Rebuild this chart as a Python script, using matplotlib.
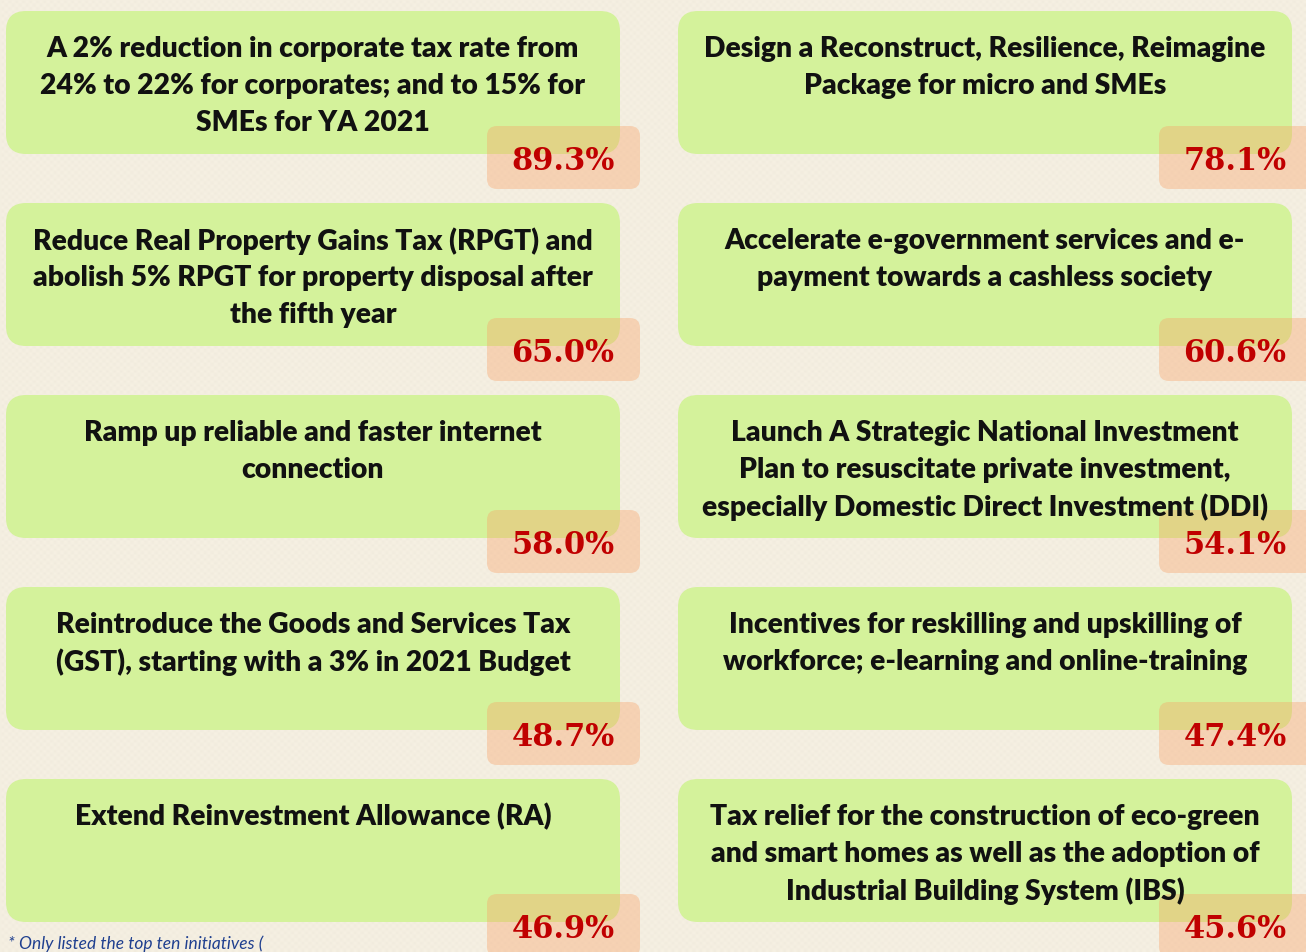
import matplotlib
matplotlib.use("Agg")
import matplotlib.pyplot as plt
import numpy as np
from matplotlib.patches import FancyBboxPatch

labels = [
    "A 2% reduction in corporate tax rate from\n24% to 22% for corporates; and to 15% for\nSMEs for YA 2021",
    "Design a Reconstruct, Resilience, Reimagine\nPackage for micro and SMEs",
    "Reduce Real Property Gains Tax (RPGT) and\nabolish 5% RPGT for property disposal after\nthe fifth year",
    "Accelerate e-government services and e-\npayment towards a cashless society",
    "Ramp up reliable and faster internet\nconnection",
    "Launch A Strategic National Investment\nPlan to resuscitate private investment,\nespecially Domestic Direct Investment (DDI)",
    "Reintroduce the Goods and Services Tax\n(GST), starting with a 3% in 2021 Budget",
    "Incentives for reskilling and upskilling of\nworkforce; e-learning and online-training",
    "Extend Reinvestment Allowance (RA)",
    "Tax relief for the construction of eco-green\nand smart homes as well as the adoption of\nIndustrial Building System (IBS)",
]
values = [89.3, 78.1, 65.0, 60.6, 58.0, 54.1, 48.7, 47.4, 46.9, 45.6]
footnote = "* Only listed the top ten initiatives ("

W, H = 1306, 953
fig = plt.figure(figsize=(W / 100, H / 100), dpi=100)
ax = fig.add_axes([0, 0, 1, 1])
fig.patch.set_facecolor("#F7F1E3")

# subtle woven background texture (decorative)
yy, xx = np.mgrid[0:H:2, 0:W:2]
tex = 0.5 + 0.5 * np.sin(xx * 0.9) * np.sin(yy * 0.9)
ax.imshow(tex, cmap="Greys", extent=(0, W, H, 0), alpha=0.035, zorder=0,
          interpolation="bilinear", aspect="auto")
ax.set_xlim(0, W)
ax.set_ylim(H, 0)
ax.axis("off")

# layout
col_x0 = [6, 678]
box_w = 614
box_h = 143
row_y0 = 12
row_step = 192
green = "#D4F29B"
salmon = (249 / 255, 160 / 255, 100 / 255, 0.36)

for i, (lab, val) in enumerate(zip(labels, values)):
    c, r = i % 2, i // 2
    x0 = col_x0[c]
    y0 = row_y0 + r * row_step
    gb = FancyBboxPatch((x0 + 20, y0 + 20), box_w - 40, box_h - 40,
                        boxstyle="round,pad=20", fc=green, ec="none", zorder=1)
    ax.add_patch(gb)
    sx0 = x0 + 481
    sw = 153 if c == 0 else 170
    sb = FancyBboxPatch((sx0 + 10, y0 + 125), sw - 20, 43,
                        boxstyle="round,pad=10", fc=salmon, ec="none", zorder=2)
    ax.add_patch(sb)
    cx = x0 + box_w / 2
    for j, line in enumerate(lab.split("\n")):
        ax.text(cx, y0 + 37 + 37 * j, line, ha="center", va="center",
                fontsize=20.3, fontweight="heavy", family="Lato", color="#111111", zorder=3)
    px = x0 + 557
    ax.text(px, y0 + 150, f"{val:.1f}%", ha="center", va="center",
            fontsize=22, fontweight="bold", family="DejaVu Serif", color="#C00000", zorder=4)

ax.text(8, 952, footnote, ha="left", va="bottom", fontsize=12.5, style="italic",
        family="Lato", color="#1F3F8F", zorder=3)

fig.savefig("out.png", dpi=100, facecolor=fig.get_facecolor())
